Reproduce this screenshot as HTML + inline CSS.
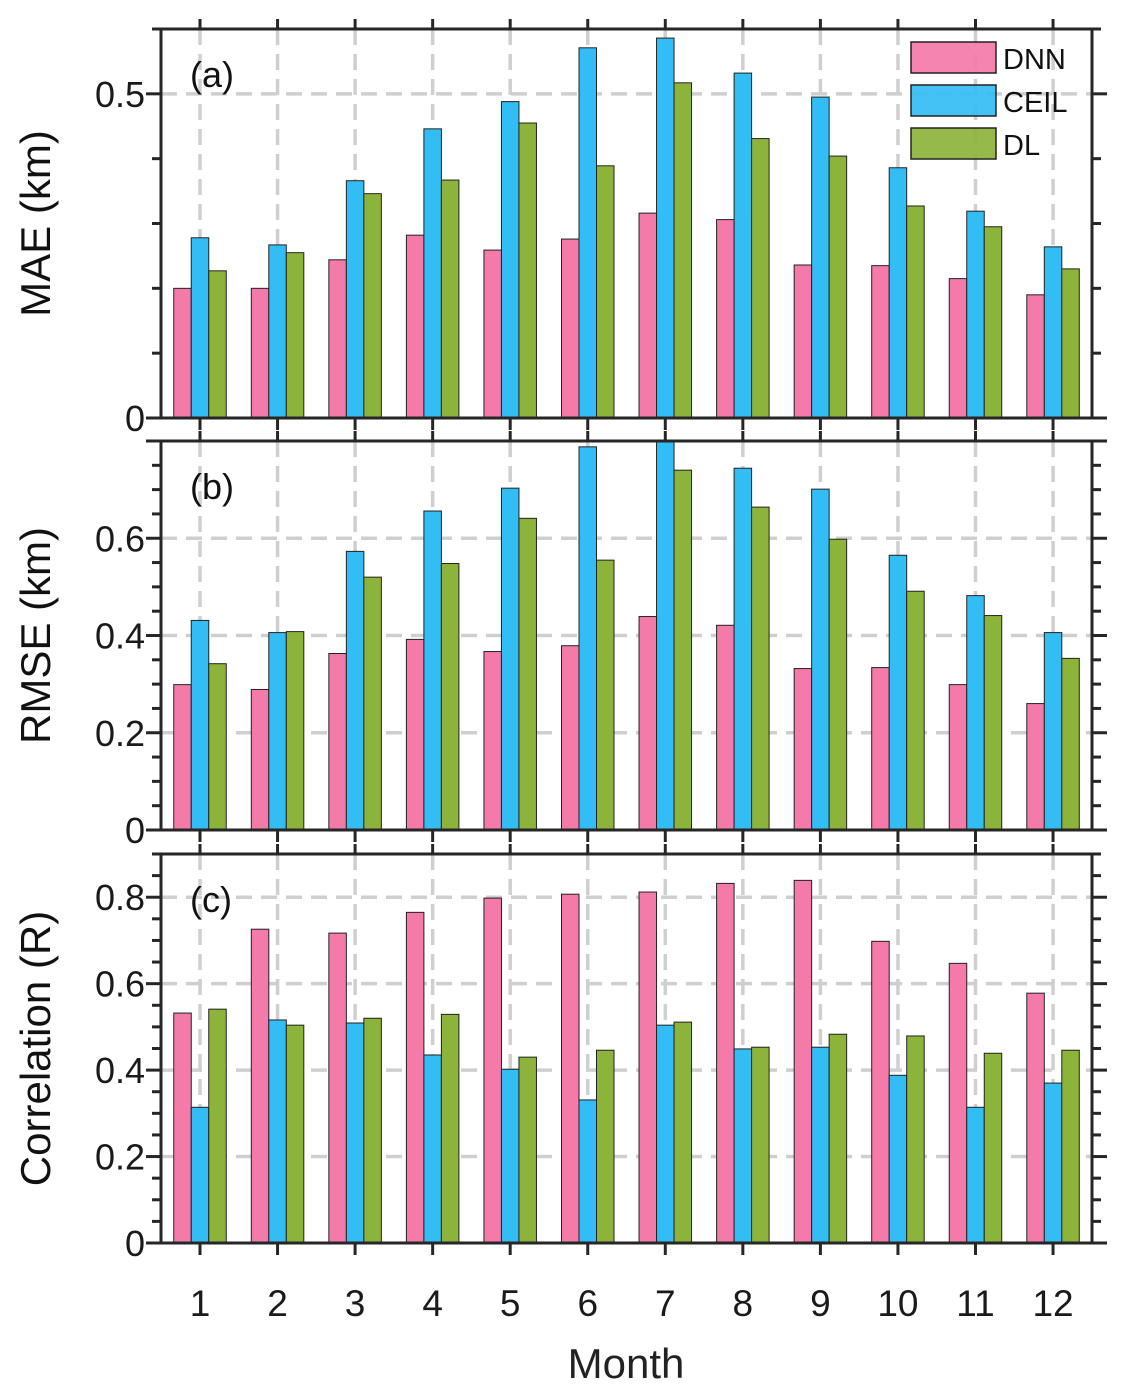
<!DOCTYPE html>
<html><head><meta charset="utf-8"><style>
html,body{margin:0;padding:0;background:#fff}
svg{display:block;font-family:"Liberation Sans",Arial,sans-serif}
</style></head><body>
<svg id="chart" width="1137" height="1391" viewBox="0 0 1137 1391" xmlns="http://www.w3.org/2000/svg"></svg>
<script>
const months=[1,2,3,4,5,6,7,8,9,10,11,12];
const seriesNames=["DNN","CEIL","DL"];
const maeDNN=[0.200,0.200,0.244,0.282,0.259,0.276,0.316,0.306,0.236,0.235,0.215,0.190];
const maeCEIL=[0.278,0.267,0.366,0.446,0.488,0.571,0.586,0.532,0.495,0.386,0.319,0.264];
const maeDL=[0.227,0.255,0.346,0.367,0.455,0.389,0.517,0.431,0.404,0.327,0.295,0.230];
const rmseDNN=[0.299,0.289,0.363,0.392,0.367,0.379,0.439,0.421,0.332,0.334,0.299,0.260];
const rmseCEIL=[0.431,0.406,0.573,0.656,0.703,0.788,0.800,0.744,0.701,0.565,0.482,0.406];
const rmseDL=[0.342,0.408,0.520,0.548,0.641,0.555,0.740,0.664,0.598,0.491,0.441,0.353];
const rDNN=[0.532,0.726,0.717,0.765,0.798,0.807,0.812,0.832,0.839,0.698,0.647,0.578];
const rCEIL=[0.314,0.516,0.509,0.435,0.402,0.331,0.504,0.449,0.453,0.388,0.314,0.370];
const rDL=[0.541,0.504,0.520,0.529,0.430,0.446,0.511,0.453,0.483,0.479,0.439,0.446];
const maeTicks=["0","0.5"];
const rmseTicks=["0","0.2","0.4","0.6"];
const rTicks=["0","0.2","0.4","0.6","0.8"];

const colors=["#f47aaa","#33bdf5","#8db43a"];
const svg=document.getElementById('chart');
const NS="http://www.w3.org/2000/svg";
function mk(tag,attrs,parent){const e=document.createElementNS(NS,tag);for(const k in attrs)e.setAttribute(k,attrs[k]);(parent||svg).appendChild(e);return e;}
const X0=161,X1=1092;
function xScale(i){return 200+i*77.55;}
const BW=17.5;
const panels=[
 {name:"mae",label:"(a)",title:"MAE (km)",top:29,bot:418,max:0.6,major:0.5,minor:0.1,ticks:maeTicks,data:[maeDNN,maeCEIL,maeDL]},
 {name:"rmse",label:"(b)",title:"RMSE (km)",top:441,bot:830,max:0.8,major:0.2,minor:0.05,ticks:rmseTicks,data:[rmseDNN,rmseCEIL,rmseDL]},
 {name:"corr",label:"(c)",title:"Correlation (R)",top:854,bot:1243,max:0.9,major:0.2,minor:0.05,ticks:rTicks,data:[rDNN,rCEIL,rDL]}
];
panels.forEach(p=>{
 const g=mk('g',{});
 
 
 const y=v=>p.bot-(v/p.max)*(p.bot-p.top);
 months.forEach((m,i)=>{const l=mk('line',{x1:xScale(i),x2:xScale(i),y1:p.top,y2:p.bot,stroke:'#cfcfcf','stroke-width':3.5,'stroke-dasharray':'16,9'},g);
  });
 p.ticks.forEach((t,k)=>{const v=parseFloat(t);if(v===0)return;const l=mk('line',{x1:X0,x2:X1,y1:y(v),y2:y(v),stroke:'#cfcfcf','stroke-width':3.5,'stroke-dasharray':'16,9'},g);
  });
 p.data.forEach((arr,s)=>{arr.forEach((v,i)=>{
  const r=mk('rect',{x:xScale(i)-BW*1.5+s*BW,y:y(v),width:BW,height:p.bot-y(v),fill:colors[s],stroke:'#222','stroke-width':1},g);
  
  
 });});
 const f=mk('rect',{x:X0,y:p.top,width:X1-X0,height:p.bot-p.top,fill:'none',stroke:'#262626','stroke-width':3},g);
 
 for(let v=0;v<=p.max+1e-9;v+=p.minor){
  const isMaj=Math.abs(v/p.major-Math.round(v/p.major))<1e-6;
  const len=isMaj?15:9;
  mk('line',{x1:X0-len,x2:X0,y1:y(v),y2:y(v),stroke:'#262626','stroke-width':3},g);
  mk('line',{x1:X1,x2:X1+len,y1:y(v),y2:y(v),stroke:'#262626','stroke-width':3},g);
 }
 p.ticks.forEach(t=>{const tx=mk('text',{x:X0-16,y:y(parseFloat(t))+13,'text-anchor':'end','font-size':36,fill:'#1a1a1a'},g);tx.textContent=t;
  });
 months.forEach((m,i)=>{mk('line',{x1:xScale(i),x2:xScale(i),y1:p.top-10,y2:p.top,stroke:'#262626','stroke-width':3},g);
  mk('line',{x1:xScale(i),x2:xScale(i),y1:p.bot,y2:p.bot+12,stroke:'#262626','stroke-width':3},g);});
 const lb=mk('text',{x:190,y:p.top+58,'font-size':36,fill:'#111'},g);lb.textContent=p.label;
 
 const cy=(p.top+p.bot)/2;
 const tt=mk('text',{x:50,y:cy,'text-anchor':'middle','font-size':42,fill:'#111',transform:`rotate(-90 50 ${cy})`},g);tt.textContent=p.title;
 
});
months.forEach((m,i)=>{const t=mk('text',{x:xScale(i),y:1316,'text-anchor':'middle','font-size':37,fill:'#1a1a1a'});t.textContent=m;
 });
const xt=mk('text',{x:626,y:1378,'text-anchor':'middle','font-size':42,fill:'#222'});xt.textContent="Month";

const lg=mk('g',{});


seriesNames.forEach((n,s)=>{const yy=42+s*43;
 const r=mk('rect',{x:911,y:yy,width:85,height:31,fill:colors[s],'fill-opacity':0.92,stroke:'#222','stroke-width':1.5},lg);
 
 const t=mk('text',{x:1003,y:yy+27,'font-size':29,fill:'#111'},lg);t.textContent=n;
 
});
</script>
</body></html>
